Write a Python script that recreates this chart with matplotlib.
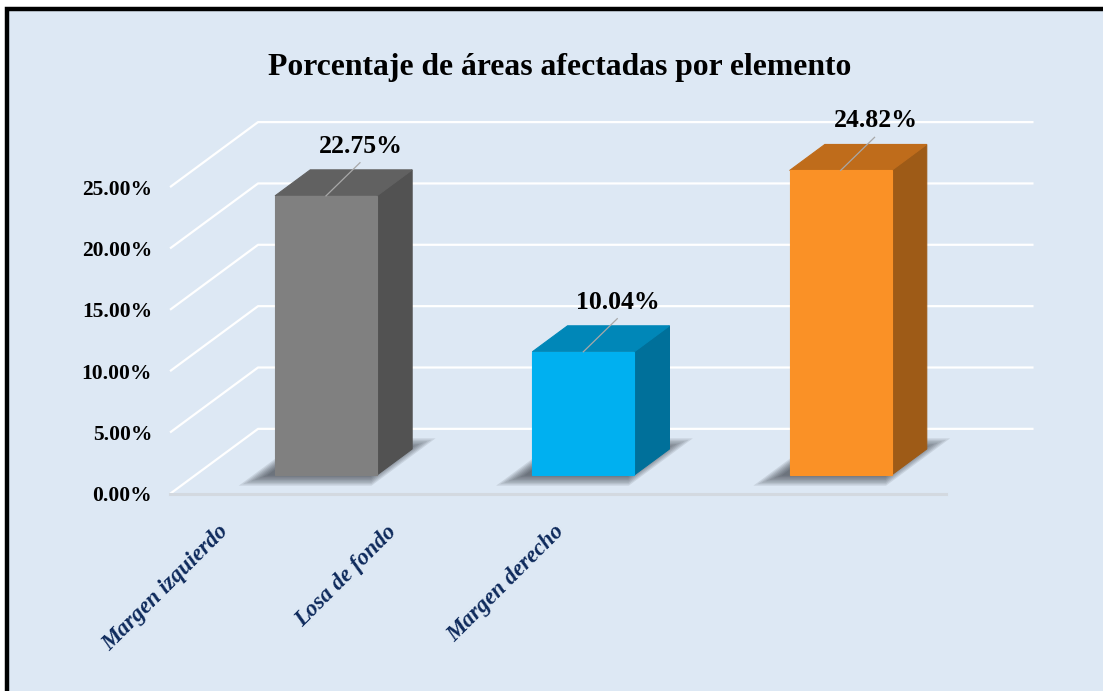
import matplotlib
matplotlib.use("Agg")
import matplotlib.pyplot as plt
from matplotlib.patches import Polygon, Rectangle

# ─── data ───────────────────────────────────────────────────────────────────
categories = ["Margen izquierdo", "Losa de fondo", "Margen derecho"]
values = [22.75, 10.04, 24.82]
value_labels = ["22.75%", "10.04%", "24.82%"]
y_ticks = [0, 5, 10, 15, 20, 25]
tick_labels = ["0.00%", "5.00%", "10.00%", "15.00%", "20.00%", "25.00%"]
title = "Porcentaje de áreas afectadas por elemento"

# ─── palette ────────────────────────────────────────────────────────────────
front_colors = ["#808080", "#00b0f0", "#fa9126"]
top_colors = ["#616161", "#0087b8", "#bf6c1b"]
side_colors = ["#525252", "#00709a", "#9e5b17"]
BG = "#dde8f4"
GRID = "#ffffff"
FLOOR_EDGE = "#d3d9e0"
CAT_COLOR = "#0e2a5c"
FONT = "Liberation Serif"

W, H = 1103, 691
fig = plt.figure(figsize=(W / 100, H / 100), dpi=100)
fig.patch.set_facecolor("white")
fig.add_artist(Rectangle((6.5 / W, -0.05), 1.2, (H - 9.5) / H + 0.05,
                         transform=fig.transFigure, facecolor=BG,
                         edgecolor="black", linewidth=3.2, zorder=0))

# ─── axes geometry: x = category index, y = percent (bar front plane) ─────
PX_X, X0 = 257.3, 326.0
PX_Y, Y0 = 12.27, 475.0
xlim = (-1.0, 3.0)
ylim = (-10.0, 31.0)
ax = fig.add_axes([(X0 + xlim[0] * PX_X) / W,
                   (H - (Y0 - ylim[0] * PX_Y)) / H,
                   (xlim[1] - xlim[0]) * PX_X / W,
                   (ylim[1] - ylim[0]) * PX_Y / H])
ax.set_xlim(*xlim)
ax.set_ylim(*ylim)
ax.axis("off")
ax.patch.set_visible(False)

# oblique projection for depth
DX, DY = 88 / PX_X, 65 / PX_Y
D_FRONT, D_BACK = -0.29, 0.71
BAR_D, HW = 0.40, 0.198
n = len(categories)
FX0, FX1 = -0.507, (n - 1) + 0.507


def P(x, y, d):
    return (x + d * DX, y + d * DY)


# gridlines: left wall diagonal + back wall horizontal
for t in y_ticks:
    pts = [P(FX0, t, D_FRONT), P(FX0, t, D_BACK), P(FX1, t, D_BACK)]
    ax.plot([p[0] for p in pts], [p[1] for p in pts], color=GRID, lw=1.6,
            zorder=1, solid_capstyle="butt")
# front floor edge
a, b = P(FX0, 0, D_FRONT), P(FX1, 0, D_FRONT)
ax.plot([a[0], b[0]], [a[1], b[1]], color=FLOOR_EDGE, lw=2.2, zorder=1)

# y tick labels
for t, lab in zip(y_ticks, tick_labels):
    x, y = P(FX0, t, D_FRONT)
    ax.text(x - 0.07, y - 0.2, lab, ha="right", va="center", fontsize=15.5,
            fontweight="bold", family=FONT, color="black")

# bars
for i, v in enumerate(values):
    # soft shadow on the floor
    for k in range(8):
        e = 0.004 + k * 0.008
        ed = 0.01 + k * 0.022
        sx = -0.025
        shadow = [P(i - HW - e + sx, 0, -ed), P(i + HW + e + sx, 0, -ed),
                  P(i + HW + e + sx, 0, BAR_D + ed), P(i - HW - e + sx, 0, BAR_D + ed)]
        ax.add_patch(Polygon(shadow, closed=True, facecolor="#262b33",
                             edgecolor="none", alpha=0.11, zorder=2))
    front = [(i - HW, 0), (i + HW, 0), (i + HW, v), (i - HW, v)]
    top = [P(i - HW, v, 0), P(i + HW, v, 0), P(i + HW, v, BAR_D), P(i - HW, v, BAR_D)]
    side = [P(i + HW, 0, 0), P(i + HW, v, 0), P(i + HW, v, BAR_D), P(i + HW, 0, BAR_D)]
    for poly, c in ((side, side_colors[i]), (top, top_colors[i]), (front, front_colors[i])):
        ax.add_patch(Polygon(poly, closed=True, facecolor=c, edgecolor=c,
                             linewidth=0.8, zorder=3))

    # leader line + value label
    ax.plot([i, i + 0.132], [v, v + 2.7], color="#a8a8a8", lw=0.9, zorder=4)
    ax.text(i + 0.136, v + 4.05, value_labels[i], ha="center", va="center",
            fontsize=18.5, fontweight="bold", family=FONT, color="black", zorder=5)

# category labels (rotated, bold italic)
for i, cat in enumerate(categories):
    ax.text(-0.42 + i * 0.652, -3.75, cat, rotation=45, rotation_mode="anchor",
            ha="right", va="top", fontsize=16.5, fontweight="bold",
            style="italic", family=FONT, color=CAT_COLOR)

# title
fig.text(560 / W, 1 - 68 / H, title, ha="center", va="center", fontsize=22.8,
         fontweight="bold", family=FONT, color="black")

fig.savefig("out.png", dpi=100, facecolor="white")
